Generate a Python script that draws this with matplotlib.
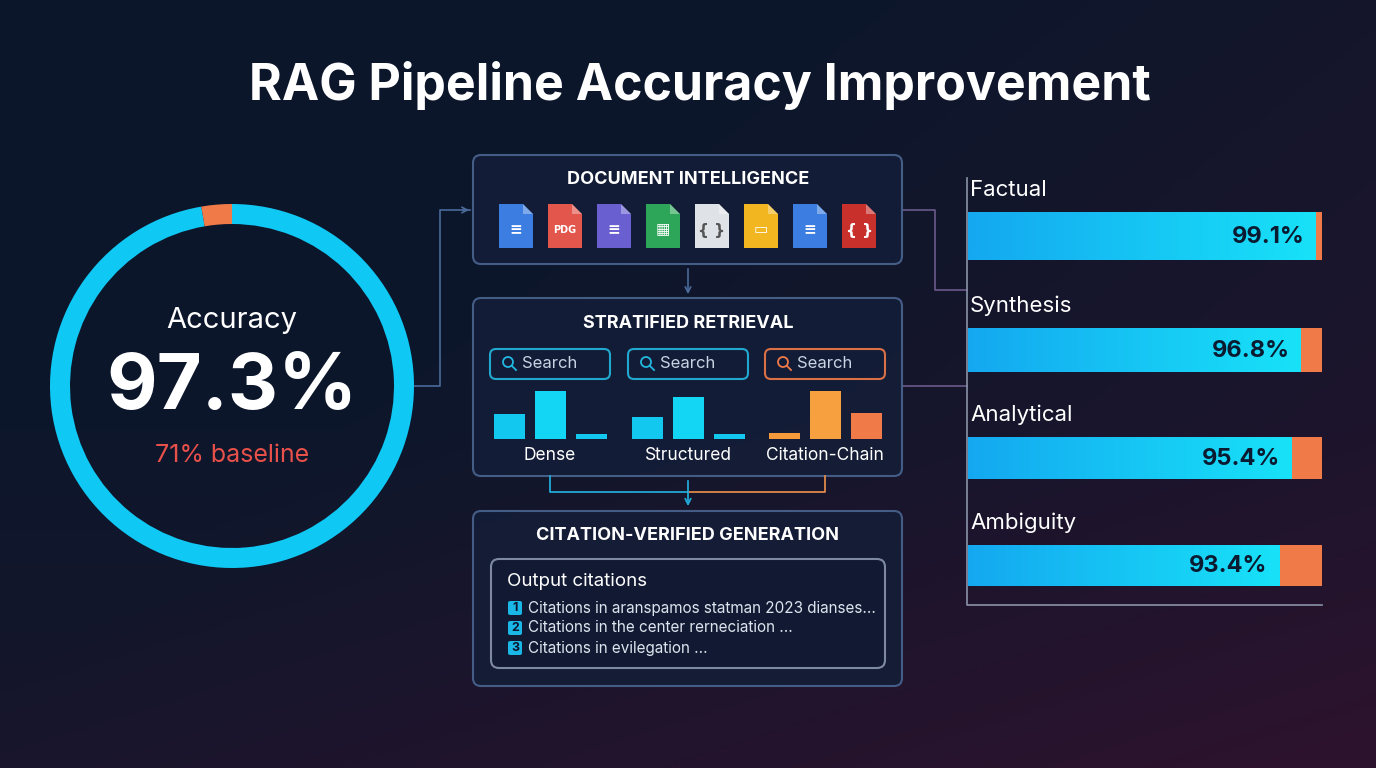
import numpy as np
import matplotlib
matplotlib.use("Agg")
import matplotlib.pyplot as plt
from matplotlib.patches import FancyBboxPatch, Polygon, Wedge, Rectangle, Circle
from matplotlib.colors import LinearSegmentedColormap

title = "RAG Pipeline Accuracy Improvement"
accuracy = 97.3
baseline = 71
categories = ["Factual", "Synthesis", "Analytical", "Ambiguity"]
values = [99.1, 96.8, 95.4, 93.4]
retrievers = ["Dense", "Structured", "Citation-Chain"]
retr_bars = [[25, 48, 5], [22, 42, 5], [6, 48, 26]]
doc_colors = ["#3b7de0", "#e2564c", "#6a5fd0", "#2ea65a", "#dfe3e8", "#f2b620", "#3b7de0", "#c8302c"]
doc_glyphs = ["≡", "PDG", "≡", "▦", "{ }", "▭", "≡", "{ }"]
citations = ["Citations in aranspamos statman 2023 dianses...",
             "Citations in the center rerneciation ...",
             "Citations in evilegation ..."]

fig = plt.figure(figsize=(13.76, 7.68), dpi=100)
ax = fig.add_axes([0, 0, 1, 1])
ax.set_xlim(0, 1376); ax.set_ylim(768, 0); ax.axis("off")
F = "Inter"

# background
yy, xx = np.mgrid[0:1:200j, 0:1:300j]
base = np.array([0.05, 0.09, 0.17])
purp = np.array([0.20, 0.07, 0.18])
w = np.clip(0.7 * xx + 0.5 * yy - 0.45, 0, 1)[..., None] * 0.8
w2 = np.clip(yy - 0.55, 0, 1)[..., None] * 0.6
bg = base * (1 - w - w2) + purp * (w + w2)
ax.imshow(np.clip(bg, 0, 1), extent=[0, 1376, 768, 0], aspect="auto", zorder=0)

ax.text(700, 86, title, color="white", fontsize=36, fontweight="bold", ha="center", va="center", family=F)

# ring (y axis inverted: top is -90 deg)
cx, cy, R = 232, 386, 182
gap = (100 - accuracy) / 100 * 360
ax.add_patch(Wedge((cx, cy), R, -90, 270 - gap, width=20, facecolor="#10c8f4", zorder=2))
ax.add_patch(Wedge((cx, cy), R, -90 - gap, -90, width=20, facecolor="#f07a48", zorder=2))
ax.text(cx, 320, "Accuracy", color="white", fontsize=21, ha="center", va="center", family=F)
ax.text(cx, 388, f"{accuracy}%", color="white", fontsize=56, fontweight="bold", ha="center", va="center", family=F)
ax.text(cx, 456, f"{baseline}% baseline", color="#e8504a", fontsize=18, ha="center", va="center", family=F)

lc = "#4a6a9a"
ax.plot([414, 440, 440, 470], [386, 386, 210, 210], color=lc, lw=1.2, zorder=1)
ax.annotate("", xy=(472, 210), xytext=(460, 210), arrowprops=dict(arrowstyle="->", color=lc, lw=1.2))
ax.plot([902, 935, 935, 967], [210, 210, 290, 290], color="#6a5a8a", lw=1.2, zorder=1)
ax.plot([902, 967], [386, 386], color="#6a5a8a", lw=1.2, zorder=1)

def box(x0, y0, x1, y1, ec="#4a6590", fc="#141d38", lw=1.5, r=8):
    ax.add_patch(FancyBboxPatch((x0, y0), x1 - x0, y1 - y0, boxstyle=f"round,pad=0,rounding_size={r}",
                                ec=ec, fc=fc, lw=lw, zorder=2, alpha=0.9))

# Document intelligence
box(473, 155, 902, 264)
ax.text(688, 180, "DOCUMENT INTELLIGENCE", color="white", fontsize=13, fontweight="bold", ha="center", va="center", family=F, zorder=3)
for i, (c, g) in enumerate(zip(doc_colors, doc_glyphs)):
    x = 516 + i * 49
    x0, x1, y0, y1, f = x - 17, x + 17, 204, 248, 10
    ax.add_patch(Polygon([[x0, y0], [x1 - f, y0], [x1, y0 + f], [x1, y1], [x0, y1]], closed=True, fc=c, ec="none", zorder=3))
    ax.add_patch(Polygon([[x1 - f, y0], [x1, y0 + f], [x1 - f, y0 + f]], closed=True, fc="white", alpha=0.35, zorder=4))
    tc = "#555555" if c == "#dfe3e8" else "white"
    ax.text(x, 230, g, color=tc, fontsize=7 if g == "PDG" else 11, fontweight="bold", ha="center", va="center", zorder=4, family="DejaVu Sans")
ax.annotate("", xy=(688, 297), xytext=(688, 266), arrowprops=dict(arrowstyle="->", color=lc, lw=1.2))

# Stratified retrieval
box(473, 298, 902, 476)
ax.text(688, 323, "STRATIFIED RETRIEVAL", color="white", fontsize=13, fontweight="bold", ha="center", va="center", family=F, zorder=3)
centers = [550, 688, 825]
for k, (c0, name, hs) in enumerate(zip(centers, retrievers, retr_bars)):
    col = "#f07a48" if k == 2 else "#22b8e0"
    box(c0 - 60, 349, c0 + 60, 379, ec=col, fc="#141d38", lw=1.5, r=6)
    ax.add_patch(Circle((c0 - 42, 362), 5, fill=False, ec=col, lw=1.3, zorder=3))
    ax.plot([c0 - 38, c0 - 34], [366, 370], color=col, lw=1.3, zorder=3)
    ax.text(c0 - 28, 364, "Search", color="#c8d4e4", fontsize=12, ha="left", va="center", family=F, zorder=3)
    for j, h in enumerate(hs):
        bx = c0 - 56 + j * 41
        bc = ["#f59a3a", "#f7a040", "#f07a48"][j] if k == 2 else ["#12c8ee", "#12d6f4", "#12c8ee"][j]
        ax.add_patch(Rectangle((bx, 439 - h), 31, h, fc=bc, ec="none", zorder=3))
    ax.text(c0, 455, name, color="white", fontsize=12.5, ha="center", va="center", family=F, zorder=3)
ax.plot([550, 550, 688], [476, 492, 492], color="#22a8d8", lw=1.3)
ax.plot([825, 825, 688], [476, 492, 492], color="#e0884a", lw=1.3)
ax.annotate("", xy=(688, 509), xytext=(688, 478), arrowprops=dict(arrowstyle="->", color="#22a8d8", lw=1.3))

# Generation
box(473, 511, 902, 686)
ax.text(688, 535, "CITATION-VERIFIED GENERATION", color="white", fontsize=13, fontweight="bold", ha="center", va="center", family=F, zorder=3)
box(491, 559, 885, 668, ec="#8a96b0", fc="#121a33")
ax.text(507, 582, "Output citations", color="white", fontsize=13.5, ha="left", va="center", family=F, zorder=3)
for i, t in enumerate(citations):
    y = 608 + i * 20
    ax.add_patch(FancyBboxPatch((508, y - 7), 14, 14, boxstyle="round,pad=0,rounding_size=2", fc="#1ab6e6", ec="none", zorder=3))
    ax.text(515, y, str(i + 1), color="#0a1530", fontsize=9, fontweight="bold", ha="center", va="center", zorder=4, family=F)
    ax.text(528, y, t, color="#dde4ee", fontsize=11, ha="left", va="center", family=F, zorder=3)

# Right bars
x0, x1 = 968, 1322
lo, hi = 45, 100
sx = lambda v: x0 + (v - lo) / (hi - lo) * (x1 - x0)
ax.plot([967, 967, 1322], [178, 605, 605], color="#8a93a8", lw=1.2)
tops = [212, 328, 437, 545]
hts = [48, 44, 42, 41]
grad = LinearSegmentedColormap.from_list("g", ["#14a8f0", "#18e2f8"])
for c, v, t, h in zip(categories, values, tops, hts):
    ax.text(970, t - 22, c, color="white", fontsize=16, ha="left", va="center", family=F)
    xe = sx(v)
    ax.imshow(np.linspace(0, 1, 256)[None, :], cmap=grad, extent=[x0, xe, t + h, t], aspect="auto", zorder=3)
    ax.add_patch(Rectangle((xe, t), x1 - xe, h, fc="#f07a48", ec="none", zorder=3))
    ax.text(xe - 12, t + h / 2 + 1, f"{v}%", color="#0a1a30", fontsize=17, fontweight="bold", ha="right", va="center", family=F, zorder=4)

ax.set_xlim(0, 1376); ax.set_ylim(768, 0)
fig.savefig("out.png", dpi=100)
